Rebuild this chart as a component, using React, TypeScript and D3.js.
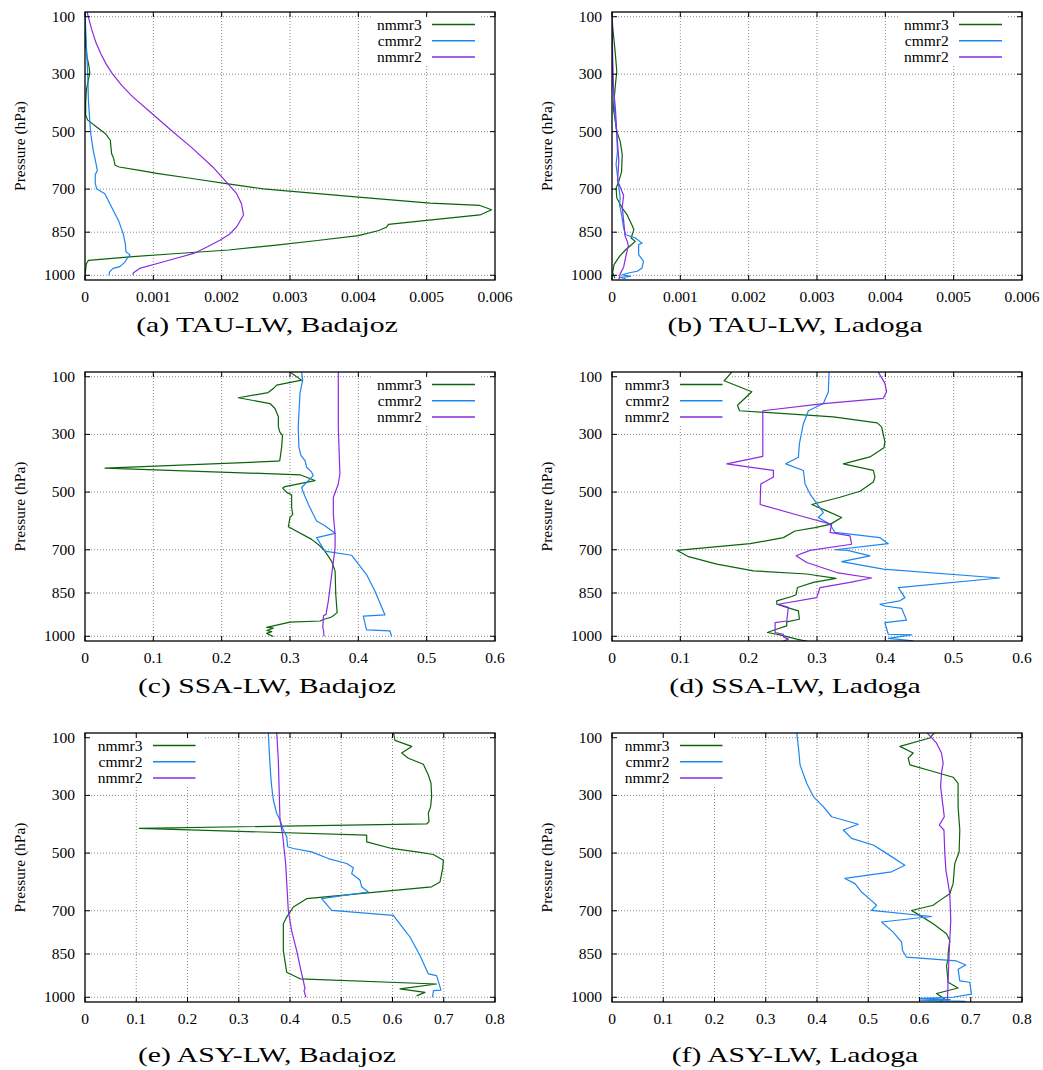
import React from "react";
import * as d3 from "d3";

// ---------- shared axis / legend content ----------
const PRESSURE_TICKS = [100, 300, 500, 700, 850, 1000];
const X_TICKS_TAU = [0, 0.001, 0.002, 0.003, 0.004, 0.005, 0.006];
const X_TICKS_SSA = [0, 0.1, 0.2, 0.3, 0.4, 0.5, 0.6];
const X_TICKS_ASY = [0, 0.1, 0.2, 0.3, 0.4, 0.5, 0.6, 0.7, 0.8];
const SERIES_NAMES = ["nmmr3", "cmmr2", "nmmr2"];
const SERIES_COLORS = ["#0b640b", "#1c86ee", "#8a2be2"];
const CAPTIONS = [
  "(a) TAU-LW, Badajoz",
  "(b) TAU-LW, Ladoga",
  "(c) SSA-LW, Badajoz",
  "(d) SSA-LW, Ladoga",
  "(e) ASY-LW, Badajoz",
  "(f) ASY-LW, Ladoga",
];
const Y_TITLE = "Pressure (hPa)";

// ---------- data: [pressure hPa, value] ----------
// (a) TAU-LW Badajoz
const A_nmmr3 = [[84,0],[200,0.00001],[240,0.00003],[275,0.00006],[295,0.00007],[320,0.00005],[355,0.00002],[400,0.00001],[443,0.00001],[460,0.00004],[484,0.00017],[507,0.0003],[530,0.00037],[577,0.00039],[594,0.00042],[617,0.00044],[623,0.0005],[635,0.0008],[645,0.00105],[664,0.00159],[681,0.00207],[699,0.00261],[728,0.004],[749,0.00505],[757,0.00578],[772,0.00595],[790,0.00578],[809,0.005],[823,0.00444],[833,0.00441],[844,0.0043],[862,0.004],[879,0.0034],[895,0.0028],[912,0.0021],[925,0.0013],[935,0.0007],[948,0.00005],[960,0.00002],[1000,0],[1016,0]];
const A_cmmr2 = [[84,0],[200,0.00002],[300,0.00004],[391,0.00005],[500,0.00008],[565,0.00012],[610,0.00016],[635,0.00018],[650,0.00015],[680,0.00015],[699,0.00017],[716,0.00029],[763,0.00039],[809,0.00049],[856,0.00056],[891,0.00059],[918,0.0006],[929,0.00066],[940,0.00062],[955,0.00058],[970,0.00051],[976,0.00041],[988,0.00036],[1000,0.00035]];
const A_nmmr2 = [[83,0.00003],[120,0.00007],[146,0.0001],[190,0.00016],[228,0.00023],[265,0.00031],[298,0.0004],[340,0.00054],[379,0.0007],[431,0.00095],[495,0.00126],[553,0.00155],[623,0.00187],[676,0.00207],[716,0.00222],[751,0.00229],[790,0.00232],[831,0.00222],[856,0.00212],[877,0.00198],[900,0.0018],[924,0.00159],[953,0.00115],[976,0.0008],[991,0.00071],[998,0.0007]];
// (b) TAU-LW Ladoga
const B_nmmr3 = [[84,0],[135,0.00001],[232,0.00005],[290,0.00007],[337,0.00005],[418,0.00002],[499,0.00007],[534,0.00012],[580,0.00015],[640,0.00014],[673,0.0001],[696,0.00006],[731,0.00007],[766,0.00015],[789,0.00022],[824,0.00029],[841,0.00032],[870,0.00028],[882,0.00034],[893,0.00029],[911,0.0002],[934,0.00011],[963,0.00003],[990,0.00001],[1010,0.00004]];
const B_cmmr2 = [[84,0],[300,0.00001],[437,0.00004],[507,0.00007],[569,0.00008],[615,0.00006],[673,0.00009],[731,0.00012],[754,0.00011],[789,0.00014],[835,0.00017],[859,0.0002],[870,0.00034],[888,0.00044],[893,0.00039],[928,0.00039],[951,0.00046],[975,0.00044],[986,0.00037],[992,0.00024],[998,0.00015],[1004,0.00027],[1007,0.00012],[1012,0.0002]];
const B_nmmr2 = [[84,0],[250,0.00001],[344,0.00002],[420,0.00005],[507,0.00007],[600,0.0001],[640,0.00009],[670,0.00008],[693,0.00012],[722,0.00017],[763,0.00015],[809,0.00017],[862,0.00019],[880,0.00022],[897,0.00024],[926,0.00021],[972,0.00017],[995,0.00012],[1015,0.0001]];
// (c) SSA-LW Badajoz
const C_nmmr3 = [[84,0.3],[112,0.317],[129,0.2805],[141,0.2756],[155,0.268],[173,0.2244],[193,0.2707],[210,0.278],[239,0.283],[274,0.283],[291,0.285],[303,0.289],[344,0.2878],[391,0.285],[393,0.2815],[417,0.0293],[440,0.3146],[460,0.3366],[481,0.2927],[486,0.2893],[501,0.295],[509,0.3024],[553,0.3024],[577,0.304],[588,0.3],[620,0.2976],[664,0.3317],[687,0.344],[705,0.351],[740,0.361],[774,0.366],[856,0.367],[918,0.369],[933,0.361],[942,0.349],[947,0.3439],[951,0.3],[969,0.2659],[972,0.2756],[980,0.2659],[984,0.2732],[990,0.2659],[1001,0.2756]];
const C_cmmr2 = [[84,0.317],[112,0.3185],[158,0.3146],[274,0.312],[344,0.313],[373,0.316],[391,0.322],[414,0.3244],[431,0.3317],[443,0.334],[484,0.317],[501,0.3195],[542,0.3268],[577,0.334],[600,0.339],[617,0.351],[643,0.366],[658,0.339],[705,0.351],[719,0.39],[786,0.412],[844,0.4244],[926,0.439],[930,0.4073],[978,0.412],[981,0.4463],[1001,0.4488]];
const C_nmmr2 = [[84,0.3707],[274,0.3707],[437,0.373],[472,0.3707],[519,0.3634],[577,0.3634],[647,0.366],[693,0.366],[786,0.361],[879,0.356],[924,0.3527],[929,0.349],[970,0.348],[979,0.349],[1000,0.3498]];
// (d) SSA-LW Ladoga
const D_nmmr3 = [[84,0.1754],[114,0.1641],[152,0.2046],[199,0.1836],[218,0.1866],[239,0.3239],[260,0.3882],[274,0.3945],[326,0.3994],[346,0.398],[378,0.3775],[402,0.3385],[425,0.3824],[448,0.3848],[465,0.3824],[497,0.3629],[518,0.3337],[543,0.2923],[565,0.3142],[588,0.3361],[612,0.319],[623,0.2971],[635,0.2679],[658,0.2508],[679,0.2021],[702,0.095],[724,0.112],[750,0.1534],[773,0.207],[784,0.285],[799,0.3278],[813,0.2947],[831,0.2713],[856,0.2694],[862,0.2631],[877,0.2411],[889,0.2411],[900,0.2557],[912,0.2728],[941,0.2742],[950,0.2557],[964,0.2557],[979,0.2362],[987,0.2275],[995,0.246],[1010,0.2703],[1022,0.2947]];
const D_cmmr2 = [[84,0.3176],[152,0.3166],[193,0.3093],[218,0.2874],[263,0.2801],[333,0.2742],[379,0.2728],[402,0.2543],[425,0.2801],[472,0.2825],[507,0.2898],[571,0.3093],[588,0.302],[612,0.319],[640,0.3264],[658,0.3921],[679,0.4043],[700,0.3264],[702,0.345],[721,0.3775],[741,0.3361],[767,0.397],[798,0.567],[831,0.419],[866,0.4286],[877,0.4213],[889,0.3921],[895,0.3994],[903,0.4238],[944,0.431],[953,0.3994],[993,0.4043],[995,0.4384],[1007,0.4043],[1016,0.4408]];
const D_nmmr2 = [[84,0.3897],[123,0.3994],[152,0.4018],[175,0.397],[193,0.3093],[218,0.2207],[376,0.2207],[402,0.168],[425,0.2362],[448,0.2362],[472,0.2177],[543,0.2168],[582,0.2752],[612,0.3215],[640,0.319],[652,0.3483],[681,0.3507],[702,0.2898],[721,0.2694],[744,0.285],[779,0.3288],[798,0.3799],[813,0.3483],[831,0.3044],[866,0.2996],[889,0.2435],[900,0.2581],[947,0.2557],[953,0.2387],[987,0.2387],[993,0.2508],[1002,0.2508],[1010,0.2581],[1019,0.2484]];
// (e) ASY-LW Badajoz
const E_nmmr3 = [[81,0.6016],[109,0.6049],[130,0.6374],[153,0.6179],[171,0.6309],[192,0.6602],[229,0.6699],[258,0.6751],[304,0.6764],[339,0.6744],[362,0.6699],[391,0.6712],[399,0.6667],[414,0.106],[438,0.5496],[461,0.5496],[484,0.5984],[496,0.6472],[505,0.6797],[525,0.6992],[554,0.6979],[600,0.6927],[617,0.6764],[658,0.4325],[687,0.4065],[722,0.3935],[745,0.387],[838,0.387],[913,0.3935],[936,0.4195],[954,0.686],[971,0.6146],[983,0.6634],[995,0.647]];
const E_cmmr2 = [[81,0.3577],[153,0.3597],[229,0.3623],[269,0.3642],[316,0.3675],[362,0.374],[385,0.3805],[420,0.387],[443,0.3935],[478,0.3954],[484,0.4065],[496,0.4423],[519,0.4748],[536,0.5106],[551,0.5236],[571,0.5203],[594,0.5366],[617,0.5398],[635,0.5528],[658,0.4618],[699,0.4813],[716,0.6016],[768,0.624],[791,0.6341],[855,0.6536],[919,0.67],[925,0.686],[975,0.6946],[977,0.68],[1000,0.678]];
const E_nmmr2 = [[81,0.374],[177,0.3772],[385,0.3805],[438,0.3857],[536,0.3915],[699,0.3967],[768,0.403],[838,0.413],[919,0.4228],[942,0.426],[971,0.4293],[977,0.4273],[1000,0.431]];
// (f) ASY-LW Ladoga
const F_nmmr3 = [[81,0.6299],[101,0.6201],[130,0.5617],[153,0.5877],[171,0.5779],[194,0.5812],[217,0.6266],[237,0.6656],[258,0.6753],[339,0.6753],[420,0.6786],[496,0.6773],[536,0.6688],[606,0.6656],[641,0.659],[664,0.6397],[681,0.6266],[699,0.5845],[716,0.6007],[745,0.6266],[780,0.6527],[803,0.659],[849,0.6558],[867,0.6558],[890,0.6527],[948,0.6558],[968,0.6753],[987,0.6332],[1006,0.649],[1016,0.64]];
const F_cmmr2 = [[81,0.3604],[130,0.3636],[194,0.3669],[258,0.3799],[304,0.3929],[339,0.4123],[374,0.4286],[400,0.4805],[420,0.4513],[449,0.4675],[472,0.5097],[501,0.5357],[542,0.5714],[565,0.5455],[588,0.4545],[606,0.474],[635,0.487],[670,0.5097],[681,0.5162],[699,0.5065],[720,0.6235],[739,0.526],[774,0.5487],[809,0.565],[838,0.5669],[861,0.5747],[874,0.6721],[888,0.6903],[903,0.6753],[943,0.6786],[948,0.698],[989,0.7013],[1000,0.665],[1004,0.6],[1008,0.66],[1010,0.6],[1014,0.69]];
const F_nmmr2 = [[81,0.6136],[118,0.6331],[153,0.6429],[188,0.6461],[223,0.6429],[269,0.6412],[327,0.6451],[374,0.6484],[403,0.6386],[420,0.6477],[501,0.6494],[559,0.6515],[641,0.6591],[733,0.661],[849,0.6578],[942,0.6558],[1012,0.6545]];

// ---------- layout ----------
const W = 1043;
const H = 1070;
const COLS = [[85, 495], [612, 1022]];
const ROWS = [[12, 280], [372, 641], [733, 1002]];
const CAPTION_Y = [332, 693, 1062];
const CAPTION_X = [267, 795];
const P_DOMAIN = [83.6, 1016.4];
const FONT = "'Liberation Serif', 'Times New Roman', serif";

const PANELS = [
  { series: [A_nmmr3, A_cmmr2, A_nmmr2], ticks: X_TICKS_TAU, legend: "right" },
  { series: [B_nmmr3, B_cmmr2, B_nmmr2], ticks: X_TICKS_TAU, legend: "right" },
  { series: [C_nmmr3, C_cmmr2, C_nmmr2], ticks: X_TICKS_SSA, legend: "right" },
  { series: [D_nmmr3, D_cmmr2, D_nmmr2], ticks: X_TICKS_SSA, legend: "left" },
  { series: [E_nmmr3, E_cmmr2, E_nmmr2], ticks: X_TICKS_ASY, legend: "left" },
  { series: [F_nmmr3, F_cmmr2, F_nmmr2], ticks: X_TICKS_ASY, legend: "left" },
];

function Panel({ idx }: { idx: number }) {
  const panel = PANELS[idx];
  const col = idx % 2;
  const row = Math.floor(idx / 2);
  const [x0, x1] = COLS[col];
  const [y0, y1] = ROWS[row];
  const ticks = panel.ticks;
  const x = d3.scaleLinear().domain([0, ticks[ticks.length - 1]]).range([x0, x1]);
  const y = d3.scaleLinear().domain(P_DOMAIN).range([y0, y1]);
  const line = d3
    .line<number[]>()
    .x((d) => x(d[1]))
    .y((d) => y(d[0]));
  const clipId = `clip-${idx}`;
  const tickLen = 5;
  const gridStyle = { stroke: "#8a8a8a", strokeWidth: 1, strokeDasharray: "1,2" };

  const legendRight = panel.legend === "right";
  const legRows = [12.5, 28.8, 45];
  const textX = legendRight ? x1 - 73.3 : x0 + 57.5;
  const lineA = legendRight ? x1 - 63 : x0 + 68;
  const lineB = legendRight ? x1 - 20 : x0 + 110.5;
  const boxX0 = legendRight ? x1 - 124 : x0 + 1;
  const boxX1 = legendRight ? x1 - 14 : x0 + 118;

  return (
    <g>
      <defs>
        <clipPath id={clipId}>
          <rect x={x0} y={y0} width={x1 - x0} height={y1 - y0} />
        </clipPath>
      </defs>
      {/* grid */}
      {ticks.slice(1, -1).map((t) => (
        <line key={`gx${t}`} x1={x(t)} x2={x(t)} y1={y0} y2={y1} {...gridStyle} />
      ))}
      {PRESSURE_TICKS.map((p) => (
        <line key={`gy${p}`} x1={x0} x2={x1} y1={y(p)} y2={y(p)} {...gridStyle} />
      ))}
      {/* legend background */}
      <rect x={boxX0} y={y0 + 1} width={boxX1 - boxX0} height={52} fill="white" />
      {/* data */}
      <g clipPath={`url(#${clipId})`}>
        {panel.series.map((s, i) => (
          <path
            key={i}
            d={line(s as number[][]) || ""}
            fill="none"
            stroke={SERIES_COLORS[i]}
            strokeWidth={1.2}
            strokeLinejoin="round"
          />
        ))}
      </g>
      {/* frame and ticks */}
      <rect x={x0} y={y0} width={x1 - x0} height={y1 - y0} fill="none" stroke="#000" strokeWidth={1.3} />
      {ticks.map((t) => (
        <g key={`tx${t}`}>
          <line x1={x(t)} x2={x(t)} y1={y1} y2={y1 - tickLen} stroke="#000" />
          <line x1={x(t)} x2={x(t)} y1={y0} y2={y0 + tickLen} stroke="#000" />
          <text x={x(t)} y={y1 + 21.5} textAnchor="middle" fontSize={15.5} fontFamily={FONT}>
            {String(t)}
          </text>
        </g>
      ))}
      {PRESSURE_TICKS.map((p) => (
        <g key={`ty${p}`}>
          <line x1={x0} x2={x0 + tickLen} y1={y(p)} y2={y(p)} stroke="#000" />
          <line x1={x1} x2={x1 - tickLen} y1={y(p)} y2={y(p)} stroke="#000" />
          <text x={x0 - 10} y={y(p) + 5} textAnchor="end" fontSize={15.5} fontFamily={FONT}>
            {p}
          </text>
        </g>
      ))}
      <text
        transform={`translate(${x0 - 66},${(y0 + y1) / 2}) rotate(-90)`}
        textAnchor="middle"
        dominantBaseline="central"
        fontSize={15.5}
        fontFamily={FONT}
      >
        {Y_TITLE}
      </text>
      {/* legend */}
      {SERIES_NAMES.map((name, i) => (
        <g key={name}>
          <text x={textX} y={y0 + legRows[i] + 5} textAnchor="end" fontSize={15.5} fontFamily={FONT}>
            {name}
          </text>
          <line
            x1={lineA}
            x2={lineB}
            y1={y0 + legRows[i]}
            y2={y0 + legRows[i]}
            stroke={SERIES_COLORS[i]}
            strokeWidth={1.5}
          />
        </g>
      ))}
      {/* caption */}
      <text
        transform={`translate(${CAPTION_X[col]},${CAPTION_Y[row]}) scale(1.35,1)`}
        textAnchor="middle"
        fontSize={22}
        fontFamily={FONT}
      >
        {CAPTIONS[idx]}
      </text>
    </g>
  );
}

export default function App() {
  return (
    <svg
      width={W}
      height={H}
      viewBox={`0 0 ${W} ${H}`}
      style={{ position: "absolute", left: 0, top: 0, background: "#fff" }}
    >
      <rect x={0} y={0} width={W} height={H} fill="#fff" />
      {PANELS.map((_, i) => (
        <Panel key={i} idx={i} />
      ))}
    </svg>
  );
}
